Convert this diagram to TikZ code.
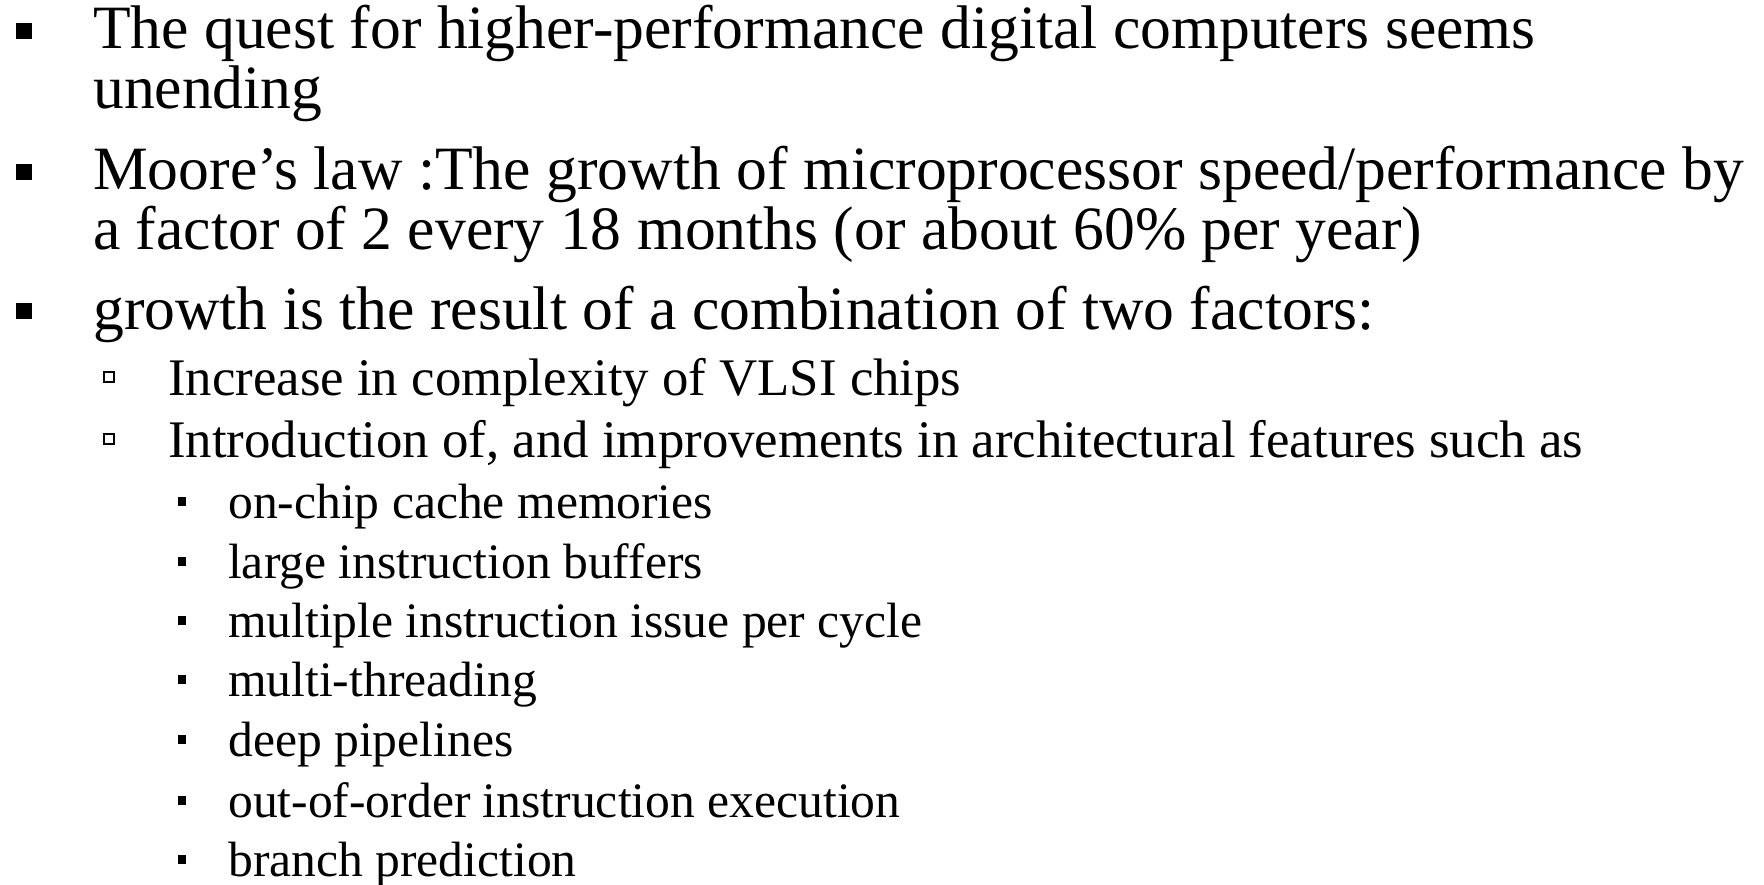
\documentclass[tikz,border=0pt]{standalone}
\usepackage{fontspec}
\setmainfont{Liberation Serif}
\begin{document}
\begin{tikzpicture}[x=1pt,y=-1pt,
  txt/.style={anchor=base west,inner sep=0pt,text=black},
  lvlone/.style={txt,font=\fontsize{61.6}{62}\selectfont},
  lvltwo/.style={txt,font=\fontsize{52.8}{53}\selectfont},
  lvlthree/.style={txt,font=\fontsize{49.6}{50}\selectfont},
  bulone/.style={fill=black,draw=none,minimum size=16pt,inner sep=0pt},
  bultwo/.style={draw=black,line width=2pt,fill=white,minimum size=10pt,inner sep=0pt},
  bulthree/.style={fill=black,draw=none,minimum width=8pt,minimum height=9pt,inner sep=0pt}]
\useasboundingbox[fill=white] (0,0) rectangle (1764,885);

% first level
\node[bulone] (b1) at (24,31) {};
\node[lvlone] (t1a) at (93,49) {The quest for higher-performance digital computers seems};
\node[lvlone] (t1b) at (93,109) {unending};
\node[bulone] (b2) at (24,172) {};
\node[lvlone] (t2a) at (93,190) {Moore’s law :The growth of microprocessor speed/performance by};
\node[lvlone] (t2b) at (93,250) {a factor of 2 every 18 months (or about 60\% per year)};
\node[bulone] (b3) at (24,311) {};
\node[lvlone] (t3) at (93,329) {growth is the result of a combination of two factors:};

% second level
\node[bultwo] (s1) at (109,377) {};
\node[lvltwo] (u1) at (168,395) {Increase in complexity of VLSI chips};
\node[bultwo] (s2) at (109,439) {};
\node[lvltwo] (u2) at (168,457) {Introduction of, and improvements in architectural features such as};

% third level
\node[bulthree] (p1) at (182,501) {};
\node[lvlthree] (v1) at (228,518) {on-chip cache memories};
\node[bulthree] (p2) at (182,561) {};
\node[lvlthree] (v2) at (228,578) {large instruction buffers};
\node[bulthree] (p3) at (182,620) {};
\node[lvlthree] (v3) at (228,637) {multiple instruction issue per cycle};
\node[bulthree] (p4) at (182,679) {};
\node[lvlthree] (v4) at (228,696) {multi-threading};
\node[bulthree] (p5) at (182,739) {};
\node[lvlthree] (v5) at (228,756) {deep pipelines};
\node[bulthree] (p6) at (182,800) {};
\node[lvlthree] (v6) at (228,817) {out-of-order instruction execution};
\node[bulthree] (p7) at (182,859) {};
\node[lvlthree] (v7) at (228,876) {branch prediction};
\end{tikzpicture}
\end{document}
